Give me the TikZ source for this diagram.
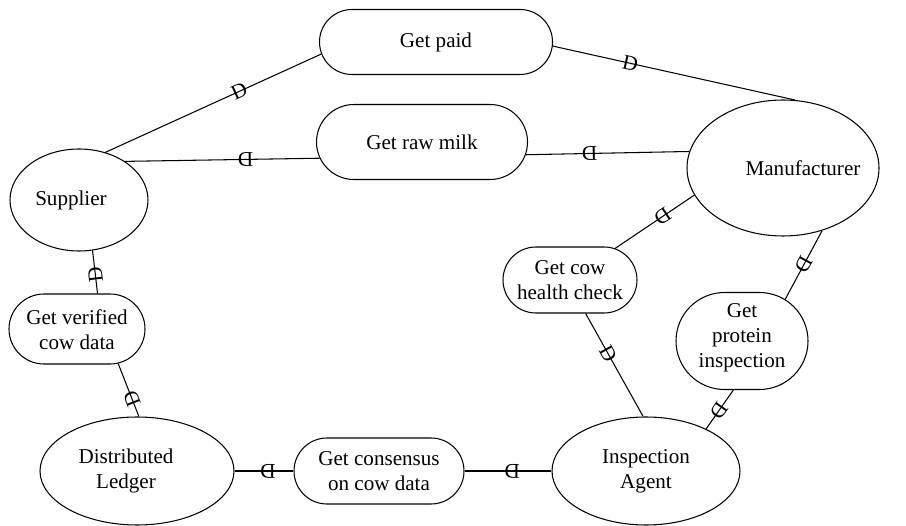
\documentclass[tikz,border=0pt]{standalone}
\usepackage{fontspec}
\setmainfont{Liberation Serif}
\usetikzlibrary{shapes.geometric,shapes.misc}
\newcommand\diagfont{\fontsize{18}{21.5}\selectfont}
\begin{document}
\begin{tikzpicture}[x=0.3mm,y=-0.3mm,
  every node/.style={font=\diagfont},
  actor/.style={draw, ellipse, inner sep=0pt},
  goal/.style={draw, rounded rectangle, inner sep=0pt},
  caption/.style={align=center, inner sep=0pt},
  dmark/.style={pos=#1, sloped, allow upside down, inner sep=0pt},
  line width=0.9pt]
\useasboundingbox (0,0) rectangle (906,526);

% actors
\node[actor, minimum width=138*0.3mm, minimum height=102*0.3mm] (sup) at (79,200) {};
\node[actor, minimum width=192*0.3mm, minimum height=136*0.3mm] (man) at (783,168) {};
\node[actor, minimum width=194*0.3mm, minimum height=108*0.3mm] (ledger) at (137,471) {};
\node[actor, minimum width=188*0.3mm, minimum height=108*0.3mm] (agent) at (646,471) {};

% goals
\node[goal, minimum width=233*0.3mm, minimum height=65*0.3mm] (paid) at (436,42) {};
\node[goal, minimum width=211*0.3mm, minimum height=75*0.3mm] (milk) at (422,142) {};
\node[goal, minimum width=134*0.3mm, minimum height=66*0.3mm] (health) at (570,280) {};
\node[goal, minimum width=132*0.3mm, minimum height=97*0.3mm] (protein) at (742,341) {};
\node[goal, minimum width=136*0.3mm, minimum height=70*0.3mm] (verified) at (77,329) {};
\node[goal, minimum width=170*0.3mm, minimum height=66*0.3mm] (consensus) at (379,471) {};

% captions
\node[caption] (sup-t) at (71,200) {Supplier};
\node[caption] (man-t) at (803,168) {Manufacturer};
\node[caption] (ledger-t) at (126,471) {Distributed\\Ledger};
\node[caption] (agent-t) at (agent) {Inspection\\Agent};
\node[caption] (paid-t) at (paid) {Get paid};
\node[caption] (milk-t) at (milk) {Get raw milk};
\node[caption] (health-t) at (health) {Get cow\\health check};
\node[caption] (protein-t) at (742,338) {Get\\protein\\inspection};
\node[caption] (verified-t) at (77,330) {Get verified\\cow data};
\node[caption] (consensus-t) at (consensus) {Get consensus\\on cow data};

% dependency links, the D opening toward the dependee side
\draw (sup.61) -- node[dmark=.62]{D} (paid.186);
\draw (paid.-2) -- node[dmark=.32]{D} (man.80);
\draw (milk.189) -- node[dmark=.38]{D} (sup.40);
\draw (man.170) -- node[dmark=.61]{D} (milk.-7);
\draw (man.197) -- node[dmark=.4]{D} (health.35);
\draw (health.-65) -- node[dmark=.39]{D} (agent.93);
\draw (man.-58) -- node[dmark=.5]{D} (protein.44);
\draw (protein.-100) -- node[dmark=.53]{D} (agent.35);
\draw (verified.60) -- node[dmark=.43]{D} (sup.-75);
\draw (ledger.88) -- node[dmark=.34]{D} (verified.-40);
\draw (consensus.west) -- node[dmark=.43]{D} (ledger.east);
\draw (agent.west) -- node[dmark=.45]{D} (consensus.east);
\end{tikzpicture}
\end{document}
